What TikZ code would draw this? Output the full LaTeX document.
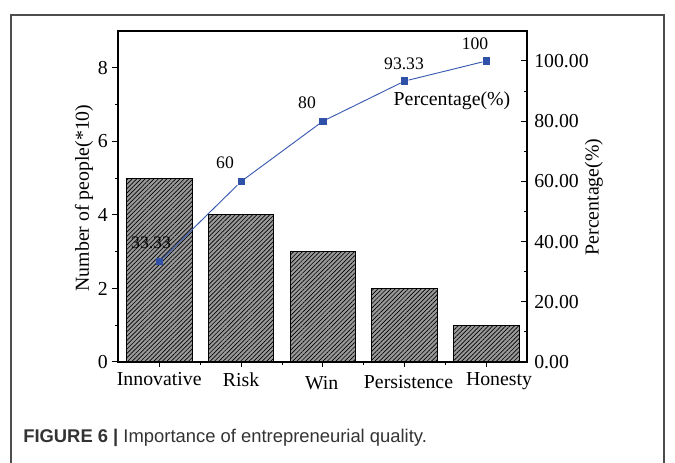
\documentclass[tikz,border=0pt]{standalone}
\usepackage{fontspec}
\setmainfont{Liberation Serif}
\newfontfamily\capsans{Liberation Sans}
\usetikzlibrary{patterns.meta}
\definecolor{lineblue}{HTML}{3A5BB0}
\definecolor{markblue}{HTML}{2F52A8}
\definecolor{framegray}{HTML}{4D4D4D}
\definecolor{captext}{HTML}{333333}
\tikzset{
  axisline/.style={black, line width=0.8pt},
  tickline/.style={black, line width=0.75pt},
  barbox/.style={draw=black, line width=0.75pt, fill=black!40,
     postaction={pattern={Lines[angle=45,distance=2.3pt,line width=0.5pt]}, pattern color=black}},
  ticklabel/.style={font=\fontsize{14.85}{17}\selectfont, inner sep=0pt},
  datalabel/.style={font=\fontsize{13.2}{15}\selectfont, inner sep=0pt},
  marker/.style={rectangle, fill=markblue, minimum size=5.4pt, inner sep=0pt},
  titlelabel/.style={font=\fontsize{14.85}{17}\selectfont, inner sep=0pt},
}
\begin{document}
\begin{tikzpicture}[x=0.75pt,y=-0.75pt]
\useasboundingbox (0,0) rectangle (675,463);
\fill[white] (0,0) rectangle (675,463);
% outer frame
\draw[framegray, line width=0.8pt] (11,463) -- (11,15) -- (664,15) -- (664,463);
% bars
\foreach \i/\v in {1/5,2/4,3/3,4/2,5/1}{
  \pgfmathsetmacro\cx{159.5+(\i-1)*81.7}
  \pgfmathsetmacro\ty{362-\v*36.75}
  \path[barbox] ({\cx-32.75},362) rectangle ({\cx+32.75},\ty);
}
% plot frame
\draw[axisline] (118,31) rectangle (527,362);
% left ticks
\foreach \v in {0,2,4,6,8}{
  \draw[tickline] (118,{362-\v*36.75}) -- ++(-6,0);
  \node[ticklabel, anchor=east] (ly\v) at (108,{362-\v*36.75}) {\v};
}
\foreach \v in {1,3,5,7}{
  \draw[tickline] (118,{362-\v*36.75}) -- ++(-3.5,0);
}
% right ticks (inward)
\foreach \p/\t in {0/0.00,20/20.00,40/40.00,60/60.00,80/80.00,100/100.00}{
  \draw[tickline] (527,{362-\p*3.01}) -- ++(-6,0);
  \node[ticklabel, anchor=west] (ry\p) at (534,{362-\p*3.01}) {\t};
}
\foreach \p in {10,30,50,70,90}{
  \draw[tickline] (527,{362-\p*3.01}) -- ++(-3.5,0);
}
% bottom ticks
\foreach \i in {1,...,5}{
  \draw[tickline] ({159.5+(\i-1)*81.7},362) -- ++(0,5);
}
\foreach \i in {1,...,4}{
  \draw[tickline] ({200.35+(\i-1)*81.7},362) -- ++(0,3);
}
% category labels
\node[ticklabel, anchor=base] (c1) at (159.2,386) {Innovative};
\node[ticklabel, anchor=base] (c2) at (241,387) {Risk};
\node[ticklabel, anchor=base] (c3) at (321.7,390) {Win};
\node[ticklabel, anchor=base] (c4) at (408.5,388) {Persistence};
\node[ticklabel, anchor=base] (c5) at (499,386) {Honesty};
% axis titles
\node[titlelabel, rotate=90] (ytitle) at (84,198) {Number of people(*10)};
\node[titlelabel, rotate=90] (y2title) at (594,197) {Percentage(\%)};
% cumulative line
\node[marker] (m1) at (159.5,{362-33.33*3.01}) {};
\node[marker] (m2) at (241.2,{362-60*3.01}) {};
\node[marker] (m3) at (322.9,{362-80*3.01}) {};
\node[marker] (m4) at (404.6,{362-93.33*3.01}) {};
\node[marker] (m5) at (486.3,{362-100*3.01}) {};
\draw[lineblue, line width=0.7pt] (m1) -- (m2) -- (m3) -- (m4) -- (m5);
% data labels
\node[datalabel] (d1) at (151,243) {33.33};
\node[datalabel] (d2) at (225,163) {60};
\node[datalabel] (d3) at (307,103) {80};
\node[datalabel] (d4) at (404,64) {93.33};
\node[datalabel] (d5) at (475,44) {100};
\node[ticklabel] (legend) at (452,101) {Percentage(\%)};
% caption
\node[anchor=base west, inner sep=0pt, text=captext, font=\capsans\fontsize{13.8}{16}\selectfont] (caption) at (23,442)
  {\textbf{FIGURE 6 |} Importance of entrepreneurial quality.};
\end{tikzpicture}
\end{document}
